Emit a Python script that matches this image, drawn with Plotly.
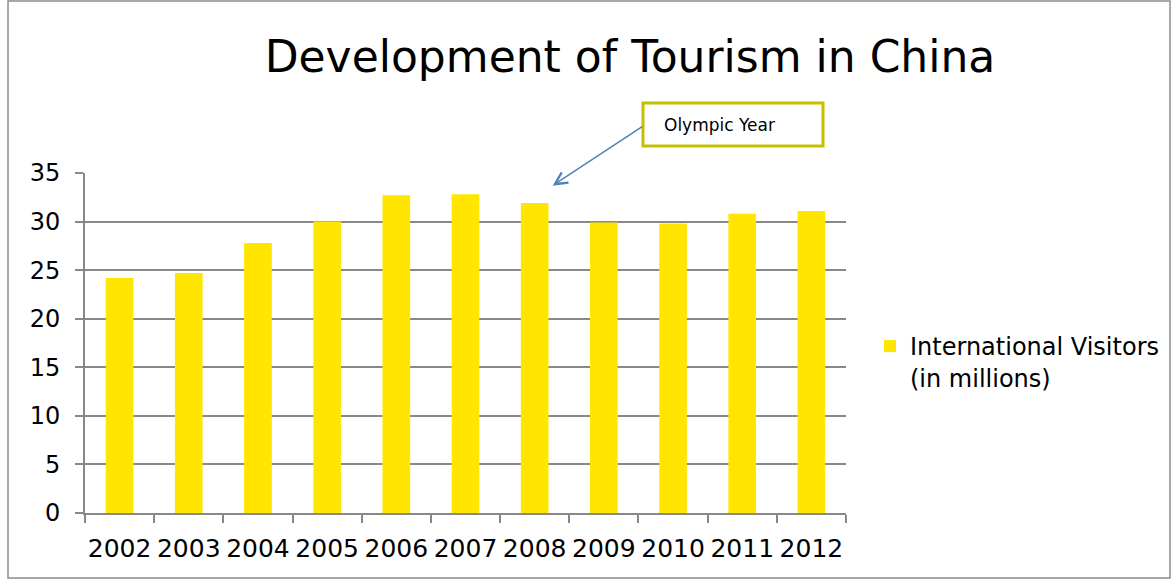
import plotly.graph_objects as go

years = ["2002", "2003", "2004", "2005", "2006", "2007", "2008", "2009", "2010", "2011", "2012"]
visitors = [24.2, 24.7, 27.8, 30.0, 32.7, 32.8, 31.9, 29.9, 29.8, 30.8, 31.1]
series_name = "International Visitors<br>(in millions)"
title_text = "Development of Tourism in China"
note_text = "Olympic Year"

FONT = "DejaVu Sans"
W, H = 1174, 581
L, R, T, B = 85, 846, 173, 513

def px(x):
    return (x - L) / (R - L)

def py(y):
    return (B - y) / (B - T)

fig = go.Figure()
fig.add_trace(go.Bar(x=years, y=visitors, name=series_name,
                     marker=dict(color="#FFE500", line=dict(width=0)),
                     showlegend=True))

fig.update_layout(
    width=W, height=H,
    margin=dict(l=L, r=W - R, t=T, b=H - B, autoexpand=False),
    paper_bgcolor="white", plot_bgcolor="white",
    font=dict(family=FONT, color="black"),
    bargap=0.6,
    title=dict(text=title_text, x=630 / W, xanchor="center",
               y=1 - 57 / H, yanchor="middle",
               font=dict(size=44, family=FONT, color="black")),
    showlegend=True,
    legend=dict(x=px(870), xanchor="left", y=py(362), yanchor="middle",
                font=dict(size=24, family=FONT, color="black"),
                valign="top", bgcolor="rgba(0,0,0,0)"),
    xaxis=dict(type="category", showline=True, linecolor="#888888", linewidth=2,
               ticks="outside", ticklen=8, tickcolor="#888888", tickwidth=2,
               tickson="boundaries", showgrid=False, tickangle=0, automargin=False,
               ticklabelstandoff=12,
               tickfont=dict(size=25, family=FONT, color="black")),
    yaxis=dict(range=[0, 35], dtick=5, showline=True, linecolor="#888888", linewidth=2,
               ticks="outside", ticklen=8, tickcolor="#888888", tickwidth=2,
               showgrid=True, gridcolor="#888888", gridwidth=2,
               zeroline=False, automargin=False, ticklabelstandoff=10,
               tickfont=dict(size=24, family=FONT, color="black")),
    shapes=[
        dict(type="rect", xref="paper", yref="paper",
             x0=px(8), x1=px(1170), y0=py(578), y1=py(1),
             line=dict(color="#8c8c8c", width=1.5), fillcolor="rgba(0,0,0,0)", layer="below"),
        dict(type="rect", xref="paper", yref="paper",
             x0=px(643), x1=px(823), y0=py(146), y1=py(103),
             line=dict(color="#C4C000", width=3), fillcolor="white"),
    ],
    annotations=[
        dict(text=note_text, xref="paper", yref="paper", x=px(662), y=py(125),
             xanchor="left", yanchor="middle", showarrow=False,
             font=dict(size=17, family=FONT, color="black")),
        dict(text="", xref="x", yref="y", x=6.26, y=33.7,
             ax=91, ay=-60, showarrow=True, arrowhead=5, arrowsize=1.6,
             arrowwidth=1.5, arrowcolor="#4F81BD"),
    ],
)

fig.write_html("out.html")
